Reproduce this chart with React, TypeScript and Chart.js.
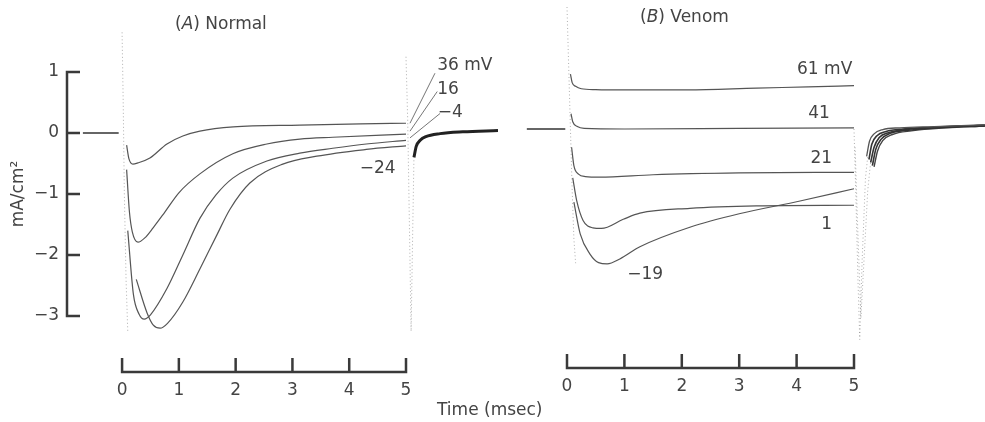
import React, { useEffect, useRef } from 'react';
import { Chart, registerables } from 'chart.js';

Chart.register(...registerables);

// ---------- axis ticks ----------
const TIME_TICKS = [0, 1, 2, 3, 4, 5];
const CURRENT_TICKS = [-3, -2, -1, 0, 1];
const X_AXIS_LEVEL = -3.92;

// ---------- Panel A: Normal (time msec, current mA/cm2) ----------
const A_BASE = [[-0.69, 0], [-0.06, 0]];
const A_CAP_ON = [[0.0, 1.65], [0.02, 0.5], [0.04, -1.0], [0.07, -2.4], [0.1, -3.25]];
const A_CAP_OFF = [[5.0, 1.25], [5.03, 0.2], [5.06, -1.5], [5.09, -3.25], [5.12, -1.5], [5.14, -0.4]];
const A_36 = [[0.08, -0.2], [0.12, -0.42], [0.19, -0.51], [0.28, -0.49], [0.49, -0.41], [0.79, -0.18], [1.07, -0.05], [1.37, 0.03], [1.96, 0.1], [3.13, 0.13], [4.2, 0.15], [5.0, 0.16]];
const A_16 = [[0.08, -0.6], [0.13, -1.3], [0.18, -1.62], [0.28, -1.79], [0.4, -1.72], [0.55, -1.55], [0.75, -1.3], [1.0, -0.98], [1.37, -0.67], [1.95, -0.34], [2.55, -0.18], [3.13, -0.1], [3.71, -0.07], [5.0, -0.02]];
const A_M4 = [[0.1, -1.6], [0.2, -2.65], [0.3, -2.97], [0.39, -3.05], [0.5, -2.98], [0.79, -2.55], [1.07, -2.0], [1.37, -1.4], [1.65, -1.02], [1.95, -0.74], [2.55, -0.46], [3.13, -0.33], [3.71, -0.25], [4.3, -0.18], [5.0, -0.12]];
const A_M24 = [[0.25, -2.4], [0.44, -2.95], [0.55, -3.15], [0.67, -3.2], [0.8, -3.12], [1.07, -2.77], [1.37, -2.23], [1.67, -1.67], [1.9, -1.25], [2.25, -0.82], [2.83, -0.51], [3.43, -0.38], [4.3, -0.27], [5.0, -0.21]];
const A_TAIL = [[5.14, -0.4], [5.18, -0.22], [5.25, -0.12], [5.35, -0.06], [5.6, -0.01], [6.0, 0.02], [6.62, 0.04]];
const A_LEAD_36 = [[5.07, 0.16], [5.51, 0.98]];
const A_LEAD_16 = [[5.07, 0.03], [5.55, 0.68]];
const A_LEAD_M4 = [[5.07, -0.08], [5.6, 0.32]];
const A_LABEL_TEXT = ['36 mV', '16', '\u22124', '\u221224'];

// ---------- Panel B: Venom ----------
const B_BASE = [[-0.7, 0], [-0.03, 0]];
const B_CAP_ON = [[0.0, 2.0], [0.03, 1.0], [0.06, 0.0], [0.09, -1.0], [0.12, -1.8], [0.15, -2.2]];
const B_CAP_OFF_1 = [[5.0, 0.0], [5.03, -1.0], [5.07, -2.5], [5.1, -3.45], [5.14, -2.2], [5.2, -0.8], [5.24, -0.45]];
const B_CAP_OFF_2 = [[5.02, -0.3], [5.06, -1.5], [5.12, -3.1], [5.16, -2.4], [5.24, -1.0], [5.3, -0.45]];
const B_61 = [[0.06, 0.9], [0.09, 0.76], [0.15, 0.7], [0.25, 0.66], [0.5, 0.645], [1.0, 0.64], [2.1, 0.64], [3.3, 0.67], [4.2, 0.69], [5.0, 0.71]];
const B_41 = [[0.07, 0.25], [0.1, 0.12], [0.18, 0.04], [0.3, 0.01], [1.0, 0.0], [3.0, 0.01], [5.0, 0.02]];
const B_21 = [[0.08, -0.3], [0.12, -0.6], [0.2, -0.74], [0.32, -0.78], [0.57, -0.79], [1.5, -0.75], [3.0, -0.72], [5.0, -0.71]];
const B_1 = [[0.1, -0.8], [0.17, -1.18], [0.28, -1.5], [0.45, -1.62], [0.6, -1.63], [0.98, -1.48], [1.27, -1.38], [2.14, -1.3], [3.3, -1.26], [5.0, -1.25]];
const B_M19 = [[0.12, -1.2], [0.23, -1.72], [0.4, -2.05], [0.55, -2.19], [0.7, -2.21], [0.92, -2.13], [1.27, -1.93], [2.14, -1.61], [3.0, -1.39], [4.06, -1.18], [5.0, -0.98]];
const B_TAIL_1 = [[5.22, -0.45], [5.27, -0.2], [5.35, -0.08], [5.5, -0.01], [5.8, 0.02], [6.4, 0.04], [7.28, 0.07]];
const B_TAIL_2 = [[5.26, -0.5], [5.31, -0.25], [5.4, -0.11], [5.56, -0.04], [5.85, 0.0], [6.4, 0.03], [7.28, 0.06]];
const B_TAIL_3 = [[5.29, -0.55], [5.35, -0.3], [5.44, -0.14], [5.6, -0.06], [5.9, -0.01], [6.5, 0.03], [7.28, 0.06]];
const B_TAIL_4 = [[5.32, -0.6], [5.38, -0.33], [5.47, -0.17], [5.63, -0.07], [5.95, -0.02], [6.5, 0.02], [7.28, 0.05]];
const B_TAIL_5 = [[5.35, -0.62], [5.41, -0.36], [5.5, -0.19], [5.67, -0.09], [6.0, -0.03], [6.6, 0.02], [7.28, 0.05]];
const B_LABEL_TEXT = ['61 mV', '41', '21', '1', '\u221219'];

// ---------- layout / style (not data) ----------
const FONT_FAMILY = '"DejaVu Sans", "Liberation Sans", sans-serif';
const FONT_SIZE = 17;
const TEXT_COLOR = '#444';
const AXIS_COLOR = '#3a3a3a';
const TRACE_COLOR = '#555';
const DOT_COLOR = 'rgba(110,110,110,0.55)';

const A_RANGE = [-0.97, 5];
const B_RANGE = [0, 5];

const A_LABEL_ANCHORS = [
  { t: 5.55, v: 1.1, align: 'left' },
  { t: 5.55, v: 0.72, align: 'left' },
  { t: 5.56, v: 0.33, align: 'left' },
  { t: 4.5, v: -0.59, align: 'center' },
];
const B_LABEL_ANCHORS = [
  { t: 4.97, v: 0.98, align: 'right' },
  { t: 4.58, v: 0.25, align: 'right' },
  { t: 4.62, v: -0.48, align: 'right' },
  { t: 4.62, v: -1.56, align: 'right' },
  { t: 1.05, v: -2.38, align: 'left' },
];

const pts = (arr: number[][]) => arr.map(([x, y]) => ({ x, y }));
const minus = (v: number) => (v < 0 ? '\u2212' + Math.abs(v) : String(v));

const trace = (arr: number[][], extra: any = {}) => ({
  data: pts(arr),
  borderColor: TRACE_COLOR,
  borderWidth: 1.2,
  pointRadius: 0,
  cubicInterpolationMode: 'monotone',
  clip: false,
  fill: false,
  ...extra,
});
const dotted = (arr: number[][]) =>
  trace(arr, { borderColor: DOT_COLOR, borderWidth: 1, borderDash: [1, 2.5], cubicInterpolationMode: 'default', tension: 0 });
const straight = (arr: number[][], color = TRACE_COLOR, width = 1) =>
  trace(arr, { borderColor: color, borderWidth: width, cubicInterpolationMode: 'default', tension: 0 });

function axisPlugin(withY: boolean) {
  return {
    id: 'bracketAxes',
    afterDatasetsDraw(chart: any) {
      const { ctx } = chart;
      const xs = chart.scales.x;
      const ys = chart.scales.y;
      ctx.save();
      ctx.strokeStyle = AXIS_COLOR;
      ctx.lineWidth = 2.5;
      ctx.lineCap = 'butt';
      const yPix = ys.getPixelForValue(X_AXIS_LEVEL);
      const x0 = xs.getPixelForValue(TIME_TICKS[0]);
      const x1 = xs.getPixelForValue(TIME_TICKS[TIME_TICKS.length - 1]);
      ctx.beginPath();
      ctx.moveTo(x0 - 1.25, yPix);
      ctx.lineTo(x1 + 1.25, yPix);
      TIME_TICKS.forEach((t) => {
        const px = xs.getPixelForValue(t);
        ctx.moveTo(px, yPix);
        ctx.lineTo(px, yPix - 14);
      });
      if (withY) {
        const sx = xs.getPixelForValue(xs.min);
        const top = ys.getPixelForValue(CURRENT_TICKS[CURRENT_TICKS.length - 1]);
        const bot = ys.getPixelForValue(CURRENT_TICKS[0]);
        ctx.moveTo(sx, top - 1.25);
        ctx.lineTo(sx, bot + 1.25);
        CURRENT_TICKS.forEach((v) => {
          const py = ys.getPixelForValue(v);
          ctx.moveTo(sx, py);
          ctx.lineTo(sx + 13, py);
        });
      }
      ctx.stroke();
      ctx.restore();
    },
  };
}

function labelPlugin(texts: string[], anchors: any[]) {
  return {
    id: 'traceLabels',
    afterDatasetsDraw(chart: any) {
      const { ctx } = chart;
      const xs = chart.scales.x;
      const ys = chart.scales.y;
      ctx.save();
      ctx.font = `${FONT_SIZE}px ${FONT_FAMILY}`;
      ctx.fillStyle = TEXT_COLOR;
      ctx.textBaseline = 'middle';
      texts.forEach((txt, i) => {
        const a = anchors[i];
        ctx.textAlign = a.align;
        ctx.fillText(txt, xs.getPixelForValue(a.t), ys.getPixelForValue(a.v));
      });
      ctx.restore();
    },
  };
}

// x range is set after data limits (not as options.min/max) so that the
// traces continuing past the axis ends are not trimmed by Chart.js.
const xScale = (range: number[]) => ({
  type: 'linear',
  bounds: 'data',
  position: { y: X_AXIS_LEVEL },
  afterDataLimits: (s: any) => {
    s.min = range[0];
    s.max = range[1];
  },
  grid: { display: false, drawTicks: false },
  border: { display: false },
  afterBuildTicks: (s: any) => {
    s.ticks = TIME_TICKS.map((value) => ({ value }));
  },
  ticks: { padding: 8, color: TEXT_COLOR, autoSkip: false, maxRotation: 0, callback: (v: any) => String(v) },
});

function buildA(canvas: HTMLCanvasElement) {
  return new Chart(canvas, {
    type: 'line',
    data: {
      datasets: [
        straight(A_BASE, '#333', 1.6),
        dotted(A_CAP_ON),
        dotted(A_CAP_OFF),
        trace(A_36),
        trace(A_16),
        trace(A_M4),
        trace(A_M24),
        trace(A_TAIL, { borderColor: '#222', borderWidth: 3 }),
        straight(A_LEAD_36, '#666', 0.9),
        straight(A_LEAD_16, '#666', 0.9),
        straight(A_LEAD_M4, '#666', 0.9),
      ] as any,
    },
    options: {
      animation: false,
      responsive: false,
      events: [],
      layout: { padding: { left: 0, right: 579, top: 72, bottom: 106 } },
      plugins: { legend: { display: false }, tooltip: { enabled: false } },
      scales: {
        x: xScale(A_RANGE),
        y: {
          type: 'linear',
          min: -3,
          max: 1,
          position: 'left',
          afterFit: (s: any) => {
            s.width = 67;
          },
          afterBuildTicks: (s: any) => {
            s.ticks = CURRENT_TICKS.map((value) => ({ value }));
          },
          grid: { display: false, drawTicks: false },
          border: { display: false },
          ticks: { padding: 8, color: TEXT_COLOR, callback: (v: any) => minus(Number(v)) },
          title: { display: true, text: 'mA/cm\u00B2', color: TEXT_COLOR, padding: { top: 8, bottom: 0 } },
        },
      } as any,
    },
    plugins: [axisPlugin(true), labelPlugin(A_LABEL_TEXT, A_LABEL_ANCHORS)],
  } as any);
}

function buildB(canvas: HTMLCanvasElement) {
  return new Chart(canvas, {
    type: 'line',
    data: {
      datasets: [
        straight(B_BASE, '#333', 1.6),
        dotted(B_CAP_ON),
        dotted(B_CAP_OFF_1),
        dotted(B_CAP_OFF_2),
        trace(B_61),
        trace(B_41),
        trace(B_21),
        trace(B_1),
        trace(B_M19),
        trace(B_TAIL_1, { borderColor: '#555', borderWidth: 1.3 }),
        trace(B_TAIL_2, { borderColor: '#333', borderWidth: 1.6 }),
        trace(B_TAIL_3, { borderColor: '#333', borderWidth: 1.6 }),
        trace(B_TAIL_4, { borderColor: '#333', borderWidth: 1.6 }),
        trace(B_TAIL_5, { borderColor: '#444', borderWidth: 1.4 }),
      ] as any,
    },
    options: {
      animation: false,
      responsive: false,
      events: [],
      layout: { padding: { left: 567, right: 131, top: 68, bottom: 110 } },
      plugins: { legend: { display: false }, tooltip: { enabled: false } },
      scales: {
        x: xScale(B_RANGE),
        y: { type: 'linear', min: -3, max: 1, display: false },
      } as any,
    },
    plugins: [axisPlugin(false), labelPlugin(B_LABEL_TEXT, B_LABEL_ANCHORS)],
  } as any);
}

const textStyle: React.CSSProperties = {
  position: 'absolute',
  font: `${FONT_SIZE}px ${FONT_FAMILY}`,
  lineHeight: '20px',
  color: TEXT_COLOR,
  whiteSpace: 'nowrap',
};

export default function App() {
  const refA = useRef<HTMLCanvasElement>(null);
  const refB = useRef<HTMLCanvasElement>(null);

  useEffect(() => {
    Chart.defaults.font.family = FONT_FAMILY;
    Chart.defaults.font.size = FONT_SIZE;
    Chart.defaults.color = TEXT_COLOR;
    const a = buildA(refA.current as HTMLCanvasElement);
    const b = buildB(refB.current as HTMLCanvasElement);
    return () => {
      a.destroy();
      b.destroy();
    };
  }, []);

  return (
    <div style={{ position: 'fixed', left: 0, top: 0, width: 985, height: 422, background: '#fff', overflow: 'hidden' }}>
      <canvas ref={refA} width={985} height={422} style={{ position: 'absolute', left: 0, top: 0 }} />
      <canvas ref={refB} width={985} height={422} style={{ position: 'absolute', left: 0, top: 0 }} />
      <div style={{ ...textStyle, left: 175, top: 13 }}>
        (<i>A</i>) Normal
      </div>
      <div style={{ ...textStyle, left: 640, top: 6 }}>
        (<i>B</i>) Venom
      </div>
      <div style={{ ...textStyle, left: 437, top: 399 }}>Time (msec)</div>
    </div>
  );
}
